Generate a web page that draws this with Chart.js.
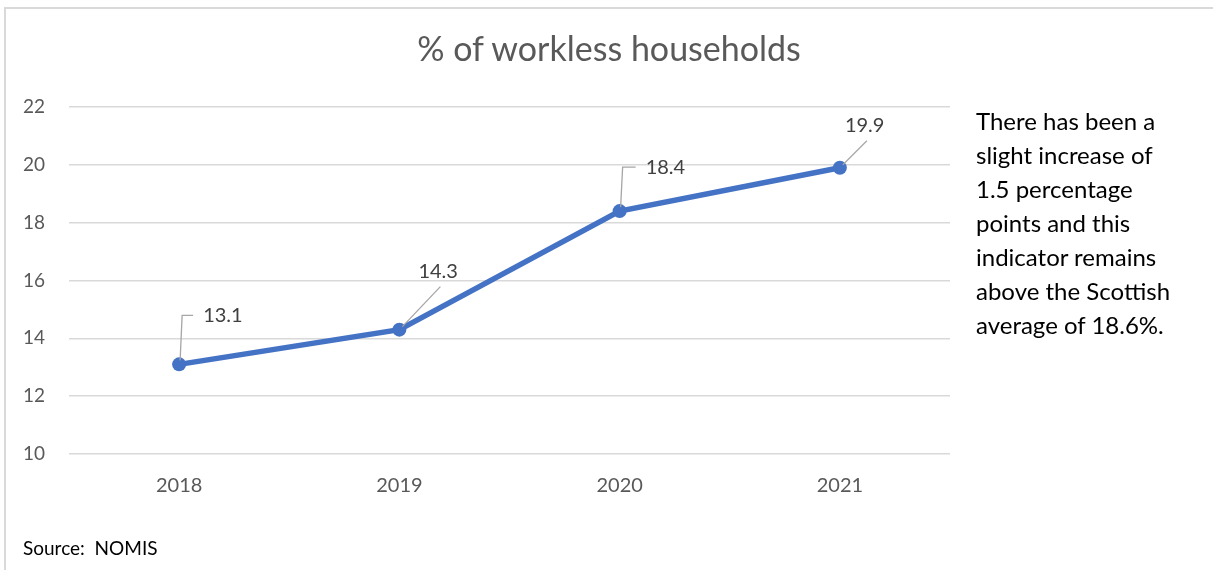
<!DOCTYPE html>
<html>
<head>
<meta charset="utf-8">
<script src="https://cdn.jsdelivr.net/npm/chart.js@4.4.1/dist/chart.umd.min.js"></script>
<style>
  html, body { margin: 0; padding: 0; background: #fff; }
  #wrap { position: relative; width: 1213px; height: 570px; overflow: hidden; font-family: Lato, "Open Sans", sans-serif; }
  #frame { position: absolute; left: 4px; top: 7px; width: 1300px; height: 700px; border-left: 2px solid #d9d9d9; border-top: 2px solid #d9d9d9; }
  #title { position: absolute; left: 0; width: 1218px; top: 28px; text-align: center; font-size: 34px; line-height: 1.2; color: #595959; }
  #note { position: absolute; left: 976px; top: 104px; font-size: 24px; line-height: 34px; color: #000; }
  #source { position: absolute; left: 23px; top: 536px; font-size: 19px; color: #000; white-space: pre; }
  canvas { position: absolute; left: 0; top: 0; }
</style>
</head>
<body>
<div id="wrap">
  <div id="frame"></div>
  <canvas id="chart" width="1213" height="570"></canvas>
  <div id="title">% of workless households</div>
  <div id="note">There has been a<br>slight increase of<br>1.5 percentage<br>points and this<br>indicator remains<br>above the Scottish<br>average of 18.6%.</div>
  <div id="source">Source:  NOMIS</div>
</div>
<script>
const years = ['2018', '2019', '2020', '2021'];
const workless = [13.1, 14.3, 18.4, 19.9];
const yTicks = [10, 12, 14, 16, 18, 20, 22];

// label placement relative to each point (style only)
const labelStyle = [
    { dx: 24, dy: -49, leader: 'elbow' },
    { dx: 19, dy: -58, leader: 'diag' },
    { dx: 26, dy: -44, leader: 'elbow' },
    { dx: 5, dy: -42, leader: 'diag' }
];

const leaderLabels = {
    id: 'leaderLabels',
    afterDatasetsDraw(chart) {
        const ctx = chart.ctx;
        const meta = chart.getDatasetMeta(0);
        ctx.save();
        ctx.font = '20px Lato, "Open Sans", sans-serif';
        ctx.textBaseline = 'middle';
        ctx.textAlign = 'left';
        meta.data.forEach((pt, i) => {
            const s = labelStyle[i];
            const tx = pt.x + s.dx;
            const ty = pt.y + s.dy;
            ctx.strokeStyle = '#a6a6a6';
            ctx.lineWidth = 1.3;
            ctx.beginPath();
            if (s.leader === 'elbow') {
                ctx.moveTo(pt.x + 1, pt.y - 4);
                ctx.lineTo(pt.x + 3, ty);
                ctx.lineTo(tx - 10, ty);
            } else {
                ctx.moveTo(pt.x + 3, pt.y - 3);
                ctx.lineTo(tx + 22, ty + 15);
            }
            ctx.stroke();
            ctx.fillStyle = '#404040';
            ctx.fillText(workless[i].toFixed(1), tx, ty);
        });
        ctx.restore();
    }
};

new Chart(document.getElementById('chart'), {
    type: 'line',
    data: {
        labels: years,
        datasets: [{
            data: workless,
            borderColor: '#4472c4',
            backgroundColor: '#4472c4',
            borderWidth: 5.5,
            pointRadius: 7,
            pointBorderWidth: 0,
            tension: 0
        }]
    },
    options: {
        responsive: false,
        animation: false,
        layout: { padding: { top: 107, right: 263, left: 0, bottom: 0 } },
        plugins: { legend: { display: false }, tooltip: { enabled: false } },
        scales: {
            x: {
                offset: true,
                grid: { display: false, drawTicks: false },
                border: { display: false },
                ticks: { color: '#595959', font: { size: 20, family: 'Lato' }, padding: 20 },
                afterFit: s => { s.height = 116; }
            },
            y: {
                min: 10,
                max: 22,
                afterBuildTicks: s => { s.ticks = yTicks.map(v => ({ value: v })); },
                grid: { color: '#d9d9d9', lineWidth: 1.5, drawTicks: false },
                border: { display: false },
                ticks: { color: '#595959', font: { size: 19, family: 'Lato' }, padding: 24 },
                afterFit: s => { s.width = 69; }
            }
        }
    },
    plugins: [leaderLabels]
});
</script>
</body>
</html>
